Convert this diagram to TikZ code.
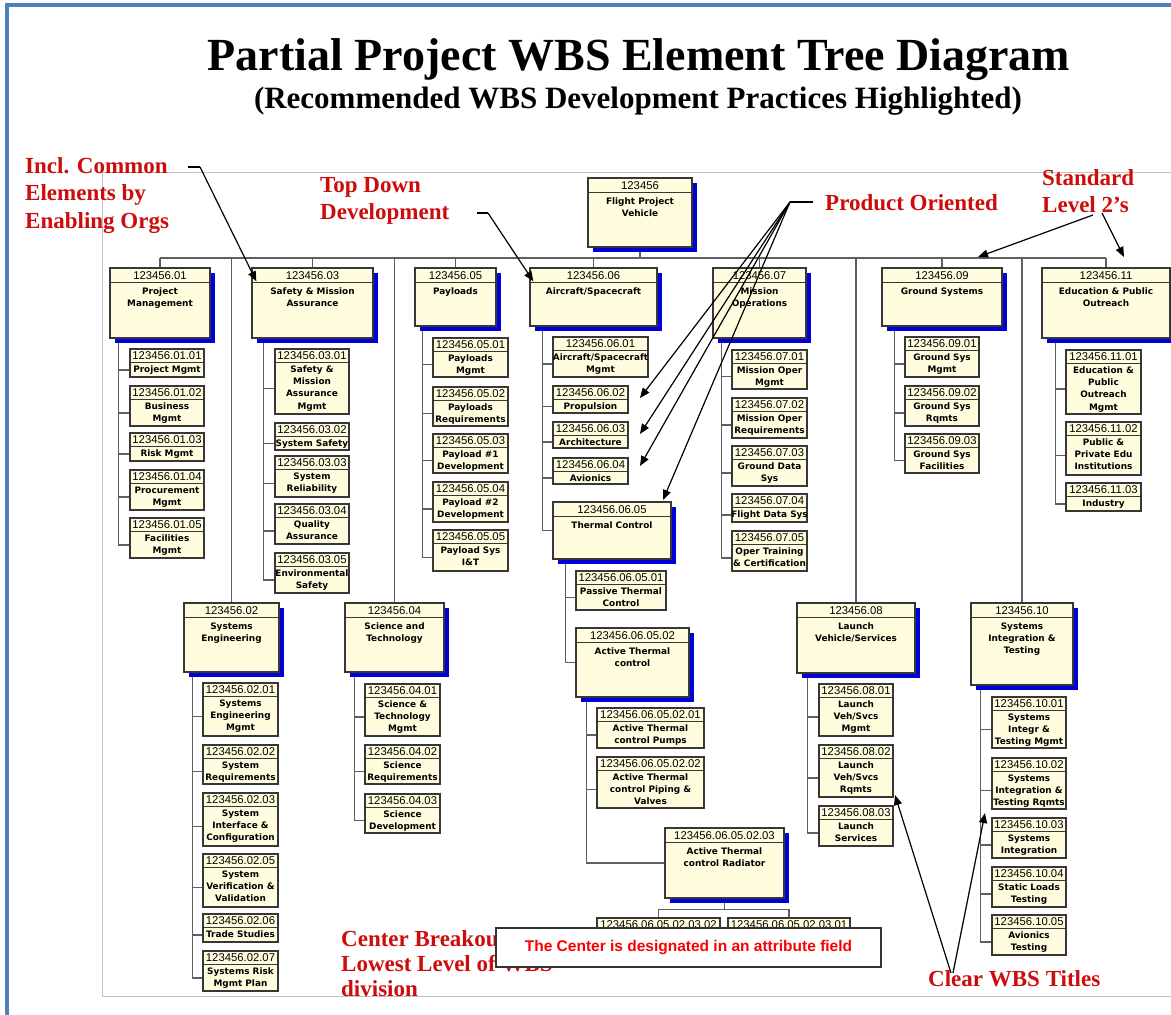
\documentclass[tikz,border=0pt]{standalone}
\usepackage{fontspec}
\setmainfont{Liberation Serif}
\newfontfamily\codefont{Liberation Sans}
\newfontfamily\lblfont{DejaVu Sans}
\newfontfamily\attrfont{Liberation Sans}
\usetikzlibrary{fit,calc,arrows.meta}
\pgfdeclarelayer{bg}
\pgfsetlayers{bg,main}
\definecolor{frameblue}{RGB}{79,129,189}
\definecolor{boxfill}{RGB}{255,253,222}
\definecolor{boxline}{RGB}{55,55,55}
\definecolor{shadowblue}{RGB}{0,0,215}
\definecolor{annred}{RGB}{205,12,12}
\definecolor{attrred}{RGB}{250,0,0}
\definecolor{wiregray}{RGB}{95,95,95}
\definecolor{framegray}{RGB}{195,195,195}
\tikzset{
  wbsrect/.style={draw=boxline, line width=1.3pt, fill=boxfill, inner sep=0pt},
  boxedge/.style={draw=boxline, line width=1.1pt},
  codetext/.style={font=\codefont\fontsize{11.3}{12}\selectfont, inner sep=0pt, text=black},
  lbltext/.style={font=\lblfont\bfseries\fontsize{8.9}{12.3}\selectfont, inner sep=0pt, align=center, anchor=north, text=black},
  wire/.style={draw=wiregray, line width=1.2pt},
  note/.style={font=\bfseries\fontsize{23}{27.5}\selectfont, text=annred, align=left, inner sep=0pt, anchor=north west},
  ann/.style={draw=black, line width=1.2pt, -{Triangle[length=10pt,width=8pt]}},
  annline/.style={draw=black, line width=1.2pt}
}
% small box: name, x1, y1, x2, y2, code, label
\newcommand\smallwbs[7]{%
  \node[wbsrect, fit={(#2,#3)(#4,#5)}] (#1) {};
  \draw[boxedge] ($(#1.north west)+(0,14)$) -- ($(#1.north east)+(0,14)$);
  \node[codetext] (#1c) at ($(#1.north)+(0,7.3)$) {#6};
  \node[lbltext] (#1l) at ($(#1.north)+(0,17)$) {#7};
  \coordinate (#1t) at ($(#1.west)+(0,7)$);
}
% big box with blue shadow
\newcommand\bigwbs[7]{%
  \fill[shadowblue] ($(#2,#3)+(5,5)$) rectangle ($(#4,#5)+(5,5)$);
  \node[wbsrect, fit={(#2,#3)(#4,#5)}] (#1) {};
  \draw[boxedge] ($(#1.north west)+(0,15)$) -- ($(#1.north east)+(0,15)$);
  \node[codetext] (#1c) at ($(#1.north)+(0,7.8)$) {#6};
  \node[lbltext] (#1l) at ($(#1.north)+(0,20)$) {#7};
  \coordinate (#1t) at (#1.west);
}
% branch: parent, spine offset, last child, list of children
\newcommand\branch[4]{%
  \coordinate (#1sp) at ($(#1.south west)+(#2,0)$);
  \draw[wire] (#1sp) |- (#3t);
  \foreach \c in {#4} {\draw[wire] (\c t -| #1sp) -- (\c t);}
}
\begin{document}
\begin{tikzpicture}[x=1pt,y=-1pt]
\useasboundingbox (0,0) rectangle (1171,1015);
\begin{pgfonlayer}{bg}
  \fill[white] (0,0) rectangle (1171,1015);
  \draw[framegray, line width=1pt] (1180,172) -- (102,172) -- (102,996) -- (1180,996);
  \draw[frameblue, line width=4pt] (6.5,1020) -- (6.5,5) -- (1180,5);
\end{pgfonlayer}

% title
\node[font=\bfseries\fontsize{46}{50}\selectfont, anchor=base] (title) at (639,70) {Partial Project WBS Element Tree Diagram};
\node[font=\bfseries\fontsize{31}{34}\selectfont, anchor=base] (subtitle) at (638,108) {(Recommended WBS Development Practices Highlighted)};

% level 1
\bigwbs{top}{588}{178}{692}{247}{123456}{Flight Project\\Vehicle}
% level 2, row 1
\bigwbs{n01}{110}{268}{210}{338}{123456.01}{Project\\Management}
\bigwbs{n03}{252}{268}{373}{338}{123456.03}{Safety \& Mission\\Assurance}
\bigwbs{n05}{415}{268}{496}{326}{123456.05}{Payloads}
\bigwbs{n06}{530}{268}{657}{326}{123456.06}{Aircraft/Spacecraft}
\bigwbs{n07}{713}{268}{806}{338}{123456.07}{Mission\\Operations}
\bigwbs{n09}{882}{268}{1002}{326}{123456.09}{Ground Systems}
\bigwbs{n11}{1042}{268}{1170}{338}{123456.11}{Education \& Public\\Outreach}
% level 2, row 2
\bigwbs{n02}{184}{603}{279}{672}{123456.02}{Systems\\Engineering}
\bigwbs{n04}{345}{603}{444}{672}{123456.04}{Science and\\Technology}
\bigwbs{n08}{797}{603}{915}{673}{123456.08}{Launch\\Vehicle/Services}
\bigwbs{n10}{971}{603}{1073}{685}{123456.10}{Systems\\Integration \&\\Testing}

% column 01
\smallwbs{n0101}{130}{349}{204}{377}{123456.01.01}{Project Mgmt}
\smallwbs{n0102}{130}{386}{204}{426}{123456.01.02}{Business\\Mgmt}
\smallwbs{n0103}{130}{433}{204}{461}{123456.01.03}{Risk Mgmt}
\smallwbs{n0104}{130}{470}{204}{510}{123456.01.04}{Procurement\\Mgmt}
\smallwbs{n0105}{130}{518}{204}{558}{123456.01.05}{Facilities\\Mgmt}
% column 03
\smallwbs{n0301}{275}{349}{349}{414}{123456.03.01}{Safety \&\\Mission\\Assurance\\Mgmt}
\smallwbs{n0302}{275}{423}{349}{450}{123456.03.02}{System Safety}
\smallwbs{n0303}{275}{456}{349}{497}{123456.03.03}{System\\Reliability}
\smallwbs{n0304}{275}{504}{349}{544}{123456.03.04}{Quality\\Assurance}
\smallwbs{n0305}{275}{553}{349}{593}{123456.03.05}{Environmental\\Safety}
% column 05
\smallwbs{n0501}{433}{338}{508}{377}{123456.05.01}{Payloads\\Mgmt}
\smallwbs{n0502}{433}{387}{508}{426}{123456.05.02}{Payloads\\Requirements}
\smallwbs{n0503}{433}{434}{508}{473}{123456.05.03}{Payload \#1\\Development}
\smallwbs{n0504}{433}{482}{508}{522}{123456.05.04}{Payload \#2\\Development}
\smallwbs{n0505}{433}{530}{508}{571}{123456.05.05}{Payload Sys\\I\&T}
% column 06
\smallwbs{n0601}{553}{337}{648}{377}{123456.06.01}{Aircraft/Spacecraft\\Mgmt}
\smallwbs{n0602}{553}{386}{628}{413}{123456.06.02}{Propulsion}
\smallwbs{n0603}{553}{422}{628}{448}{123456.06.03}{Architecture}
\smallwbs{n0604}{553}{458}{628}{484}{123456.06.04}{Avionics}
\bigwbs{n0605}{553}{502}{671}{559}{123456.06.05}{Thermal Control}
\smallwbs{n060501}{576}{571}{666}{610}{123456.06.05.01}{Passive Thermal\\Control}
\bigwbs{n060502}{576}{628}{689}{697}{123456.06.05.02}{Active Thermal\\control}
\smallwbs{n06050201}{597}{708}{704}{748}{123456.06.05.02.01}{Active Thermal\\control Pumps}
\smallwbs{n06050202}{597}{757}{704}{808}{123456.06.05.02.02}{Active Thermal\\control Piping \&\\Valves}
\bigwbs{n06050203}{665}{828}{784}{898}{123456.06.05.02.03}{Active Thermal\\control Radiator}
\smallwbs{n0605020302}{597}{918}{720}{958}{123456.06.05.02.03.02}{}
\smallwbs{n0605020301}{728}{918}{850}{958}{123456.06.05.02.03.01}{}
% column 07
\smallwbs{n0701}{732}{350}{807}{389}{123456.07.01}{Mission Oper\\Mgmt}
\smallwbs{n0702}{732}{398}{807}{438}{123456.07.02}{Mission Oper\\Requirements}
\smallwbs{n0703}{732}{446}{807}{486}{123456.07.03}{Ground Data\\Sys}
\smallwbs{n0704}{732}{494}{807}{522}{123456.07.04}{Flight Data Sys}
\smallwbs{n0705}{732}{531}{807}{571}{123456.07.05}{Oper Training\\\& Certification}
% column 09
\smallwbs{n0901}{905}{337}{979}{377}{123456.09.01}{Ground Sys\\Mgmt}
\smallwbs{n0902}{905}{386}{979}{426}{123456.09.02}{Ground Sys\\Rqmts}
\smallwbs{n0903}{905}{434}{979}{473}{123456.09.03}{Ground Sys\\Facilities}
% column 11
\smallwbs{n1101}{1066}{350}{1141}{414}{123456.11.01}{Education \&\\Public\\Outreach\\Mgmt}
\smallwbs{n1102}{1066}{422}{1141}{475}{123456.11.02}{Public \&\\Private Edu\\Institutions}
\smallwbs{n1103}{1066}{483}{1141}{511}{123456.11.03}{Industry}
% column 02
\smallwbs{n0201}{203}{683}{278}{736}{123456.02.01}{Systems\\Engineering\\Mgmt}
\smallwbs{n0202}{203}{745}{278}{784}{123456.02.02}{System\\Requirements}
\smallwbs{n0203}{203}{793}{278}{846}{123456.02.03}{System\\Interface \&\\Configuration}
\smallwbs{n0205}{203}{854}{278}{907}{123456.02.05}{System\\Verification \&\\Validation}
\smallwbs{n0206}{203}{914}{278}{942}{123456.02.06}{Trade Studies}
\smallwbs{n0207}{203}{951}{278}{991}{123456.02.07}{Systems Risk\\Mgmt Plan}
% column 04
\smallwbs{n0401}{365}{684}{440}{736}{123456.04.01}{Science \&\\Technology\\Mgmt}
\smallwbs{n0402}{365}{745}{440}{784}{123456.04.02}{Science\\Requirements}
\smallwbs{n0403}{365}{794}{440}{833}{123456.04.03}{Science\\Development}
% column 08
\smallwbs{n0801}{819}{684}{893}{736}{123456.08.01}{Launch\\Veh/Svcs\\Mgmt}
\smallwbs{n0802}{819}{745}{893}{797}{123456.08.02}{Launch\\Veh/Svcs\\Rqmts}
\smallwbs{n0803}{819}{806}{893}{846}{123456.08.03}{Launch\\Services}
% column 10
\smallwbs{n1001}{992}{697}{1066}{748}{123456.10.01}{Systems\\Integr \&\\Testing Mgmt}
\smallwbs{n1002}{992}{758}{1066}{809}{123456.10.02}{Systems\\Integration \&\\Testing Rqmts}
\smallwbs{n1003}{992}{818}{1066}{858}{123456.10.03}{Systems\\Integration}
\smallwbs{n1004}{992}{867}{1066}{907}{123456.10.04}{Static Loads\\Testing}
\smallwbs{n1005}{992}{915}{1066}{955}{123456.10.05}{Avionics\\Testing}

% connectors
\begin{pgfonlayer}{bg}
  \coordinate (busy) at (640,258);
  \draw[wire] (top.south) -- (top.south |- busy);
  \draw[wire] (n01.north |- busy) -- (n11.north |- busy);
  \foreach \n in {n01,n03,n05,n06,n07,n09,n11,n02,n04,n08,n10}
    {\draw[wire] (\n.north) -- (\n.north |- busy);}
  \branch{n01}{9}{n0105}{n0101,n0102,n0103,n0104}
  \branch{n03}{12}{n0305}{n0301,n0302,n0303,n0304}
  \branch{n05}{8}{n0505}{n0501,n0502,n0503,n0504}
  \branch{n06}{13}{n0605}{n0601,n0602,n0603,n0604}
  \branch{n0605}{13}{n060502}{n060501}
  \branch{n060502}{11}{n06050203}{n06050201,n06050202}
  \branch{n07}{9}{n0705}{n0701,n0702,n0703,n0704}
  \branch{n09}{13}{n0903}{n0901,n0902}
  \branch{n11}{14}{n1103}{n1101,n1102}
  \branch{n02}{9}{n0207}{n0201,n0202,n0203,n0205,n0206}
  \branch{n04}{10}{n0403}{n0401,n0402}
  \branch{n08}{11}{n0803}{n0801,n0802}
  \branch{n10}{10}{n1005}{n1001,n1002,n1003,n1004}
  \coordinate (rb) at ($(n06050203.south)+(0,11)$);
  \draw[wire] (n06050203.south) -- (rb);
  \draw[wire] (n0605020302.north) |- (rb) -| (n0605020301.north);
\end{pgfonlayer}

% annotations
\node[note] (incl) at (25,157) {Incl. Common\\Elements by\\Enabling Orgs};
\node[note] (topdown) at (320,177) {Top Down\\Development};
\node[note] (prod) at (825,194) {Product Oriented};
\node[note] (std) at (1042,169) {Standard\\Level 2’s};
\node[note] (clear) at (928,970) {Clear WBS Titles};
\node[note, font=\bfseries\fontsize{23}{25}\selectfont] (center) at (341,930) {Center Breakout at\\Lowest Level of WBS\\division};

\coordinate (a1s) at (188,167);
\coordinate (a1m) at (200,167);
\draw[annline] (a1s) -- (a1m);
\draw[ann] (a1m) -- ($(n03.north west)+(5,14)$);

\coordinate (a2s) at (477,213);
\coordinate (a2m) at (488,213);
\draw[annline] (a2s) -- (a2m);
\draw[ann] (a2m) -- ($(n06.north west)+(4,14)$);

\coordinate (a3s) at (813,202);
\coordinate (a3m) at (790,202);
\coordinate (p1) at (640,398);
\coordinate (p2) at (640,434);
\coordinate (p3) at (640,466);
\coordinate (p4) at (663,500);
\draw[annline] (a3s) -- (a3m);
\foreach \p in {p1,p2,p3,p4} {\draw[ann] (a3m) -- (\p);}

\coordinate (a4a) at (1093,215);
\coordinate (a4b) at (1102,213);
\coordinate (s1) at (978,257);
\coordinate (s2) at (1124,257);
\draw[ann] (a4a) -- (s1);
\draw[ann] (a4b) -- (s2);

\coordinate (a5a) at (951,973);
\coordinate (a5b) at (953,973);
\coordinate (c1) at (895,795);
\coordinate (c2) at (985,813);
\draw[ann] (a5a) -- (c1);
\draw[ann] (a5b) -- (c2);

\node[draw=black!80, line width=1.5pt, fill=white, minimum width=385pt, minimum height=39pt,
      font=\attrfont\bfseries\fontsize{15.5}{18}\selectfont, text=attrred] (attr) at (688.5,947.5)
      {The Center is designated in an attribute field};
\end{tikzpicture}
\end{document}
